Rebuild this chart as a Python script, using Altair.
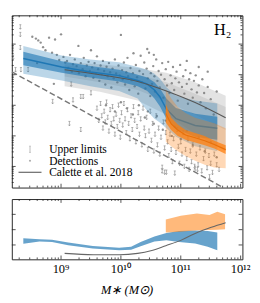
import altair as alt
import pandas as pd
import numpy as np

# ---------------- data (x = log10 M*, y = log10 ratio) ----------------
det_x = [8.52, 8.58, 8.62, 8.66, 8.70, 8.74, 8.80, 8.85, 8.90, 8.93, 8.97, 9.00, 8.88, 8.60,
         9.04, 9.07, 9.10, 9.12, 9.15, 9.18, 9.20, 9.23, 9.26, 9.29, 9.30, 9.33, 9.36, 9.38, 9.41, 9.43, 9.46, 9.48, 9.50,
         9.52, 9.54, 9.56, 9.58, 9.60, 9.62, 9.64, 9.66, 9.68, 9.70, 9.72, 9.74, 9.76, 9.78, 9.80, 9.82, 9.84, 9.86, 9.88, 9.90, 9.92, 9.94, 9.96, 9.98, 10.00,
         10.02, 10.03, 10.05, 10.07, 10.09, 10.11, 10.12, 10.14, 10.16, 10.18, 10.20, 10.21, 10.23, 10.25, 10.27, 10.29, 10.31, 10.33, 10.35, 10.37, 10.39, 10.41, 10.43, 10.45, 10.47, 10.49, 10.50,
         10.52, 10.54, 10.56, 10.57, 10.59, 10.61, 10.63, 10.65, 10.67, 10.69, 10.71, 10.73, 10.75, 10.77, 10.79, 10.81, 10.83, 10.85, 10.87, 10.89, 10.91, 10.93, 10.95, 10.97, 10.99,
         11.02, 11.04, 11.06, 11.08, 11.10, 11.12, 11.14, 11.16, 11.18, 11.20, 11.22, 11.25, 11.27, 11.30, 11.33, 11.36, 11.39, 11.42, 11.45, 11.50, 11.55, 11.60,
         11.10, 11.30, 11.45, 10.44, 10.55,
         10.00, 10.10, 10.20, 10.30, 10.40, 10.45, 10.55, 10.60, 10.70, 10.75, 10.85, 10.90, 11.00, 11.10, 11.20, 11.30, 11.40, 11.50, 11.60, 9.90, 9.75]
det_y = [0.24, 0.18, 0.12, 0.05, -0.10, -0.20, 0.21, -0.28, 0.15, -0.35, -0.52, 0.32, -1.30, -0.62,
         -0.42, -0.60, -0.55, -0.78, -0.35, -0.90, -0.66, -0.50, -0.72, -0.06, -0.95, -0.62, -0.82, -0.45, -1.05, -0.70, -0.58, -0.88, -0.20,
         -0.76, -1.10, -0.62, -0.95, -0.40, -0.82, -1.20, -0.70, -0.98, -0.55, -0.88, -1.32, -0.74, -1.05, -0.62, -0.92, -1.42, -0.80, -1.12, -0.50, -0.96, -1.25, -0.70, -1.02, 0.30,
         -0.85, -1.15, -0.60, -1.32, -0.92, -0.45, -1.05, -1.50, -0.78, -1.18, -0.95, -0.30, -1.38, -0.68, -1.08, -1.62, -0.88, -0.38, -1.25, -0.98, -0.60, -1.45, -0.80, -1.12, -0.28, -1.70, -0.95,
         -1.30, -0.72, -1.05, -1.55, -0.50, -1.20, -0.88, -1.42, -1.00, -0.62, -1.75, -1.15, -0.82, -1.35, -0.58, -1.60, -1.02, -1.28, -0.75, -1.50, -1.12, -0.90, -1.85, -1.25, -0.68,
         -1.40, -1.05, -1.62, -0.85, -1.30, -1.95, -1.15, -0.95, -1.48, -1.75, -1.20, -1.02, -1.58, -1.35, -1.90, -1.15, -1.60, -2.10, -1.40, -1.80, -2.30, -1.55,
         -0.55, -0.75, -0.90, -0.16, -0.35,
         -1.90, -2.10, -2.30, -2.00, -2.40, -2.20, -2.60, -2.35, -2.80, -2.50, -3.00, -2.70, -3.10, -2.85, -3.30, -3.05, -3.50, -3.20, -3.70, -2.20, -2.00]

ul_x = [8.32, 8.32, 8.32, 8.20, 8.24, 8.33, 8.45, 8.86, 9.17, 9.20, 9.33, 9.37, 9.14, 9.33, 9.50,
        9.60, 9.63, 9.66, 9.68, 9.70, 9.72, 9.74, 9.76, 9.78, 9.80, 9.82, 9.84, 9.86, 9.88, 9.90, 9.92, 9.94, 9.96, 9.98, 9.99,
        10.01, 10.03, 10.05, 10.07, 10.09, 10.11, 10.13, 10.15, 10.17, 10.19, 10.21, 10.23, 10.25, 10.27, 10.29, 10.31, 10.33, 10.35, 10.37, 10.39,
        10.41, 10.43, 10.45, 10.47, 10.49, 10.51, 10.53, 10.55, 10.57, 10.59, 10.61, 10.63, 10.65, 10.67, 10.69, 10.71, 10.73, 10.75, 10.76, 10.78,
        10.80, 10.82, 10.84, 10.86, 10.88, 10.90, 10.92, 10.94, 10.96, 10.98, 11.00, 11.02, 11.04, 11.06, 11.08, 11.10, 11.12, 11.14, 11.16, 11.18,
        11.20, 11.23, 11.26, 11.29, 11.32, 11.35, 11.38, 11.41, 11.44, 11.47, 11.50, 11.53, 11.56, 11.60, 11.64,
        10.69, 10.73, 11.48, 11.24, 11.28]
ul_y = [0.56, 0.31, -0.12, -0.43, -0.84, -0.84, -0.84, -1.88, -1.31, -1.83, -1.72, -1.72, -2.60, -2.80, -1.60,
        -2.10, -2.50, -1.95, -2.35, -2.75, -2.20, -2.55, -1.90, -2.40, -2.85, -2.15, -2.60, -2.05, -2.45, -2.95, -2.30, -2.70, -2.00, -2.50, -3.05,
        -2.25, -2.65, -1.95, -2.45, -2.90, -2.15, -2.60, -3.10, -2.35, -2.80, -2.05, -2.50, -3.20, -2.70, -2.25, -2.95, -2.45, -3.30, -2.10, -2.75,
        -3.00, -2.40, -3.45, -2.85, -2.20, -3.15, -2.60, -3.50, -2.95, -2.35, -3.30, -2.75, -3.60, -3.05, -4.03, -2.55, -3.40, -2.90, -4.19, -3.20,
        -3.65, -2.95, -3.45, -3.85, -3.10, -4.22, -3.55, -2.80, -3.35, -3.90, -3.20, -3.60, -2.90, -4.00, -3.45, -3.75, -3.10, -4.10, -3.50, -3.85,
        -3.30, -4.00, -3.60, -3.95, -3.40, -4.15, -3.75, -3.50, -4.05, -3.65, -3.90, -4.20, -3.60, -3.95, -4.10,
        -4.15, -4.19, -4.34, -4.06, -4.10]

# model bands (top panel)
blue_x = [8.37, 9.01, 9.49, 9.97, 10.28, 10.44, 10.56, 10.65, 10.76, 10.92, 11.24, 11.61]
blue_mid = [-0.47, -0.75, -0.91, -1.03, -1.19, -1.31, -1.50, -1.72, -2.125, -2.44, -2.66, -2.75]
blue_in_hi = [-0.25, -0.56, -0.72, -0.84, -1.00, -1.09, -1.25, -1.44, -1.78, -2.09, -2.28, -2.375]
blue_in_lo = [-0.69, -0.94, -1.09, -1.22, -1.375, -1.53, -1.78, -2.03, -2.44, -2.78, -3.03, -3.125]
blue_out_hi = [-0.06, -0.375, -0.50, -0.59, -0.75, -0.84, -0.97, -1.125, -1.41, -1.69, -1.84, -1.94]
blue_out_lo = [-0.97, -1.19, -1.375, -1.53, -1.78, -2.19, -2.44, -2.56, -2.75, -3.03, -3.34, -3.50]

orange_x = [10.75, 10.84, 10.95, 11.08, 11.24, 11.40, 11.56, 11.75]
orange_mid = [-2.27, -2.61, -2.81, -2.97, -3.06, -3.16, -3.28, -3.45]
orange_in_hi = [-1.97, -2.41, -2.625, -2.81, -2.91, -3.00, -3.16, -3.31]
orange_in_lo = [-2.56, -2.81, -3.00, -3.125, -3.22, -3.31, -3.41, -3.59]
orange_out_hi = [-1.47, -1.78, -2.06, -2.25, -2.41, -2.50, -2.59, -2.75]
orange_out_lo = [-3.19, -3.34, -3.50, -3.66, -3.81, -3.94, -4.03, -4.06]

gray_x = [9.06, 9.65, 10.28, 10.76, 11.24, 11.75]
calette_y = [-0.84, -1.00, -1.22, -1.53, -1.91, -2.41]
gray_in_hi = [-0.69, -0.81, -1.00, -1.25, -1.625, -2.06]
gray_in_lo = [-1.06, -1.25, -1.50, -1.875, -2.31, -2.81]
gray_out_hi = [-0.59, -0.66, -0.78, -0.94, -1.25, -1.69]
gray_out_lo = [-1.375, -1.56, -1.84, -2.31, -2.94, -3.50]

limit_x = [8.18, 11.71]
limit_y = [-0.91, -4.69]

# bottom panel
bb_x = [8.37, 8.64, 8.85, 9.12, 9.53, 9.97, 10.17, 10.33, 10.56, 10.76, 10.97, 11.24, 11.45, 11.61]
bb_hi = [1.44, 1.375, 1.34, 1.16, 0.94, 0.81, 0.875, 1.19, 1.56, 1.78, 1.91, 1.94, 1.91, 1.81]
bb_lo = [1.08, 1.22, 1.19, 0.98, 0.77, 0.66, 0.69, 0.91, 1.22, 1.31, 1.19, 1.09, 0.875, 0.66]
ob_x = [10.75, 11.00, 11.27, 11.48, 11.61, 11.74]
ob_hi = [2.66, 2.91, 3.06, 2.96, 3.17, 3.00]
ob_lo = [1.81, 1.86, 1.96, 1.98, 2.00, 2.03]
cb_x = [9.06, 9.54, 9.97, 10.28, 10.50, 10.75, 11.00, 11.24, 11.51, 11.75]
cb_y = [0.45, 0.36, 0.36, 0.45, 0.62, 0.95, 1.30, 1.75, 2.15, 2.45]

tick_vals = [9, 10, 11, 12]
tick_labels = ["10\u2079", "10\u00b9\u2070", "10\u00b9\u00b9", "10\u00b9\u00b2"]
legend_labels = ["Upper limits", "Detections", "Calette et al. 2018"]
panel_label = "H\u2082"
x_title = "M\u2217 (M\u2299)"

# ---------------- chart ----------------
SERIF = "Liberation Serif"
XDOM = [8.178, 12.03]
YDOM = [-4.69, 0.94]
BDOM = [0.06, 4.0]
W, H1, H2 = 241, 180, 63
BLUE, ORANGE, GRAY = "#1f77b4", "#ff7f0e", "#7f7f7f"
PT = "#8a8a8a"
TK = "#222222"

xs = alt.Scale(domain=XDOM, nice=False, zero=False)
ys = alt.Scale(domain=YDOM, nice=False, zero=False)
bs = alt.Scale(domain=BDOM, nice=False, zero=False)


def X(field):
    return alt.X(f"{field}:Q", scale=xs, axis=None)


def band(x, hi, lo, color, op, yscale):
    df = pd.DataFrame({"x": x, "hi": hi, "lo": lo})
    return alt.Chart(df).mark_area(color=color, opacity=op).encode(
        x=X("x"), y=alt.Y("hi:Q", scale=yscale, axis=None), y2="lo:Q")


def line(x, y, color, width, yscale, dash=None, interp="linear"):
    df = pd.DataFrame({"x": x, "y": y})
    kw = dict(color=color, strokeWidth=width, interpolate=interp)
    if dash:
        kw["strokeDash"] = dash
    return alt.Chart(df).mark_line(**kw).encode(
        x=X("x"), y=alt.Y("y:Q", scale=yscale, axis=None))


def minor_ticks(lo, hi):
    out = []
    for n in range(int(np.floor(lo)) - 1, int(np.ceil(hi)) + 1):
        for k in range(2, 10):
            v = n + np.log10(k)
            if lo < v < hi:
                out.append(round(float(v), 4))
    return out


def tick_layers(xvals_major, xvals_minor, yvals_major, yvals_minor, yscale, h):
    layers = []
    for vals, L in ((xvals_major, 4), (xvals_minor, 2)):
        df = pd.DataFrame({"v": vals})
        layers.append(alt.Chart(df).mark_rule(color=TK, strokeWidth=0.8).encode(
            x=X("v"), y=alt.value(h), y2=alt.value(h - L)))
        layers.append(alt.Chart(df).mark_rule(color=TK, strokeWidth=0.8).encode(
            x=X("v"), y=alt.value(0), y2=alt.value(L)))
    for vals, L in ((yvals_major, 4), (yvals_minor, 2)):
        if not vals:
            continue
        df = pd.DataFrame({"v": vals})
        layers.append(alt.Chart(df).mark_rule(color=TK, strokeWidth=0.8).encode(
            y=alt.Y("v:Q", scale=yscale, axis=None), x=alt.value(0), x2=alt.value(L)))
        layers.append(alt.Chart(df).mark_rule(color=TK, strokeWidth=0.8).encode(
            y=alt.Y("v:Q", scale=yscale, axis=None), x=alt.value(W), x2=alt.value(W - L)))
    return layers


x_minor = minor_ticks(XDOM[0], XDOM[1])
x_major = [v for v in tick_vals if XDOM[0] <= v <= XDOM[1]]
y_major = [0, -1, -2, -3, -4]
y_minor = minor_ticks(YDOM[0], YDOM[1])

# points
det_df = pd.DataFrame({"x": det_x, "y": det_y})
ul_df = pd.DataFrame({"x": ul_x, "y": ul_y})
UL_PATH = "M-0.45,-1L0.45,-1M0,-1L0,1M-0.45,0.45L0,1L0.45,0.45"
det_pts = alt.Chart(det_df).mark_point(filled=True, size=6, color=PT, opacity=0.95).encode(
    x=X("x"), y=alt.Y("y:Q", scale=ys, axis=None))
ul_pts = alt.Chart(ul_df).mark_point(shape=UL_PATH, size=22, filled=False, color=PT, strokeWidth=0.7,
                                     opacity=0.95).encode(
    x=X("x"), y=alt.Y("y:Q", scale=ys, axis=None))

# legend drawn inside the top panel (lower left)
LEG_X, LEG_Y, LEG_DY, LEG_TX = 19, 140, 12, 39
LEG_UL = "M0,-1L0,1M-0.25,-1L0.25,-1M-0.25,1L0.25,1"
one = pd.DataFrame({"k": [0]})
legend_layers = [
    alt.Chart(one).mark_point(shape=LEG_UL, size=42, filled=False, color="#a0a0a0", strokeWidth=1).encode(
        x=alt.value(LEG_X), y=alt.value(LEG_Y)),
    alt.Chart(one).mark_point(shape="circle", size=5, filled=True, color="#8a8a8a").encode(
        x=alt.value(LEG_X), y=alt.value(LEG_Y + LEG_DY)),
    alt.Chart(one).mark_rule(color="#555555", strokeWidth=1.1).encode(
        x=alt.value(LEG_X - 12), x2=alt.value(LEG_X + 12), y=alt.value(LEG_Y + 2 * LEG_DY)),
]
for i, txt in enumerate(legend_labels):
    legend_layers.append(
        alt.Chart(pd.DataFrame({"t": [txt]})).mark_text(
            font=SERIF, fontSize=12, color="black", align="left", baseline="middle").encode(
            x=alt.value(LEG_TX), y=alt.value(LEG_Y + i * LEG_DY), text="t:N"))

lab_df = pd.DataFrame({"x": [11.70], "y": [0.44], "t": [panel_label]})
label = alt.Chart(lab_df).mark_text(font=SERIF, fontSize=17, color="black", baseline="middle").encode(
    x=X("x"), y=alt.Y("y:Q", scale=ys, axis=None), text="t:N")

top = alt.layer(
    det_pts, ul_pts,
    band(gray_x, gray_out_hi, gray_out_lo, GRAY, 0.22, ys),
    band(gray_x, gray_in_hi, gray_in_lo, GRAY, 0.18, ys),
    band(blue_x, blue_out_hi, blue_out_lo, BLUE, 0.3, ys),
    band(blue_x, blue_in_hi, blue_in_lo, BLUE, 0.62, ys),
    line(blue_x, blue_mid, BLUE, 1.5, ys),
    band(orange_x, orange_out_hi, orange_out_lo, ORANGE, 0.3, ys),
    band(orange_x, orange_in_hi, orange_in_lo, ORANGE, 0.75, ys),
    line(orange_x, orange_mid, "#e8700a", 1.2, ys),
    line(gray_x, calette_y, "#555555", 1.1, ys, interp="monotone"),
    line(limit_x, limit_y, "#777777", 1.5, ys, dash=[6, 3]),
    label, *legend_layers,
    *tick_layers(x_major, x_minor, y_major, y_minor, ys, H1),
).properties(width=W, height=H1)

# x tick labels and title drawn as text below the bottom panel
tl_df = pd.DataFrame({"v": tick_vals, "t": tick_labels})
tick_text = alt.Chart(tl_df).mark_text(font=SERIF, fontSize=13, color="black", baseline="middle").encode(
    x=X("v"), y=alt.value(H2 + 10), text="t:N")
title_df = pd.DataFrame({"t": [x_title]})
title_text = alt.Chart(title_df).mark_text(font=SERIF, fontSize=13, fontStyle="italic", color="black",
                                           baseline="middle").encode(
    x=alt.value(W / 2), y=alt.value(H2 + 32), text="t:N")

bottom = alt.layer(
    band(bb_x, bb_hi, bb_lo, BLUE, 0.68, bs),
    band(ob_x, ob_hi, ob_lo, ORANGE, 0.55, bs),
    line(cb_x, cb_y, "#666666", 1.1, bs, interp="monotone"),
    tick_text, title_text,
    *tick_layers(x_major, x_minor, [1, 2, 3], [], bs, H2),
).properties(width=W, height=H2)

chart = alt.vconcat(top, bottom, spacing=7).properties(padding=0).configure_view(
    stroke="#222222", strokeWidth=1)

chart.save("out.html", embed_options={"renderer": "svg", "actions": False})
